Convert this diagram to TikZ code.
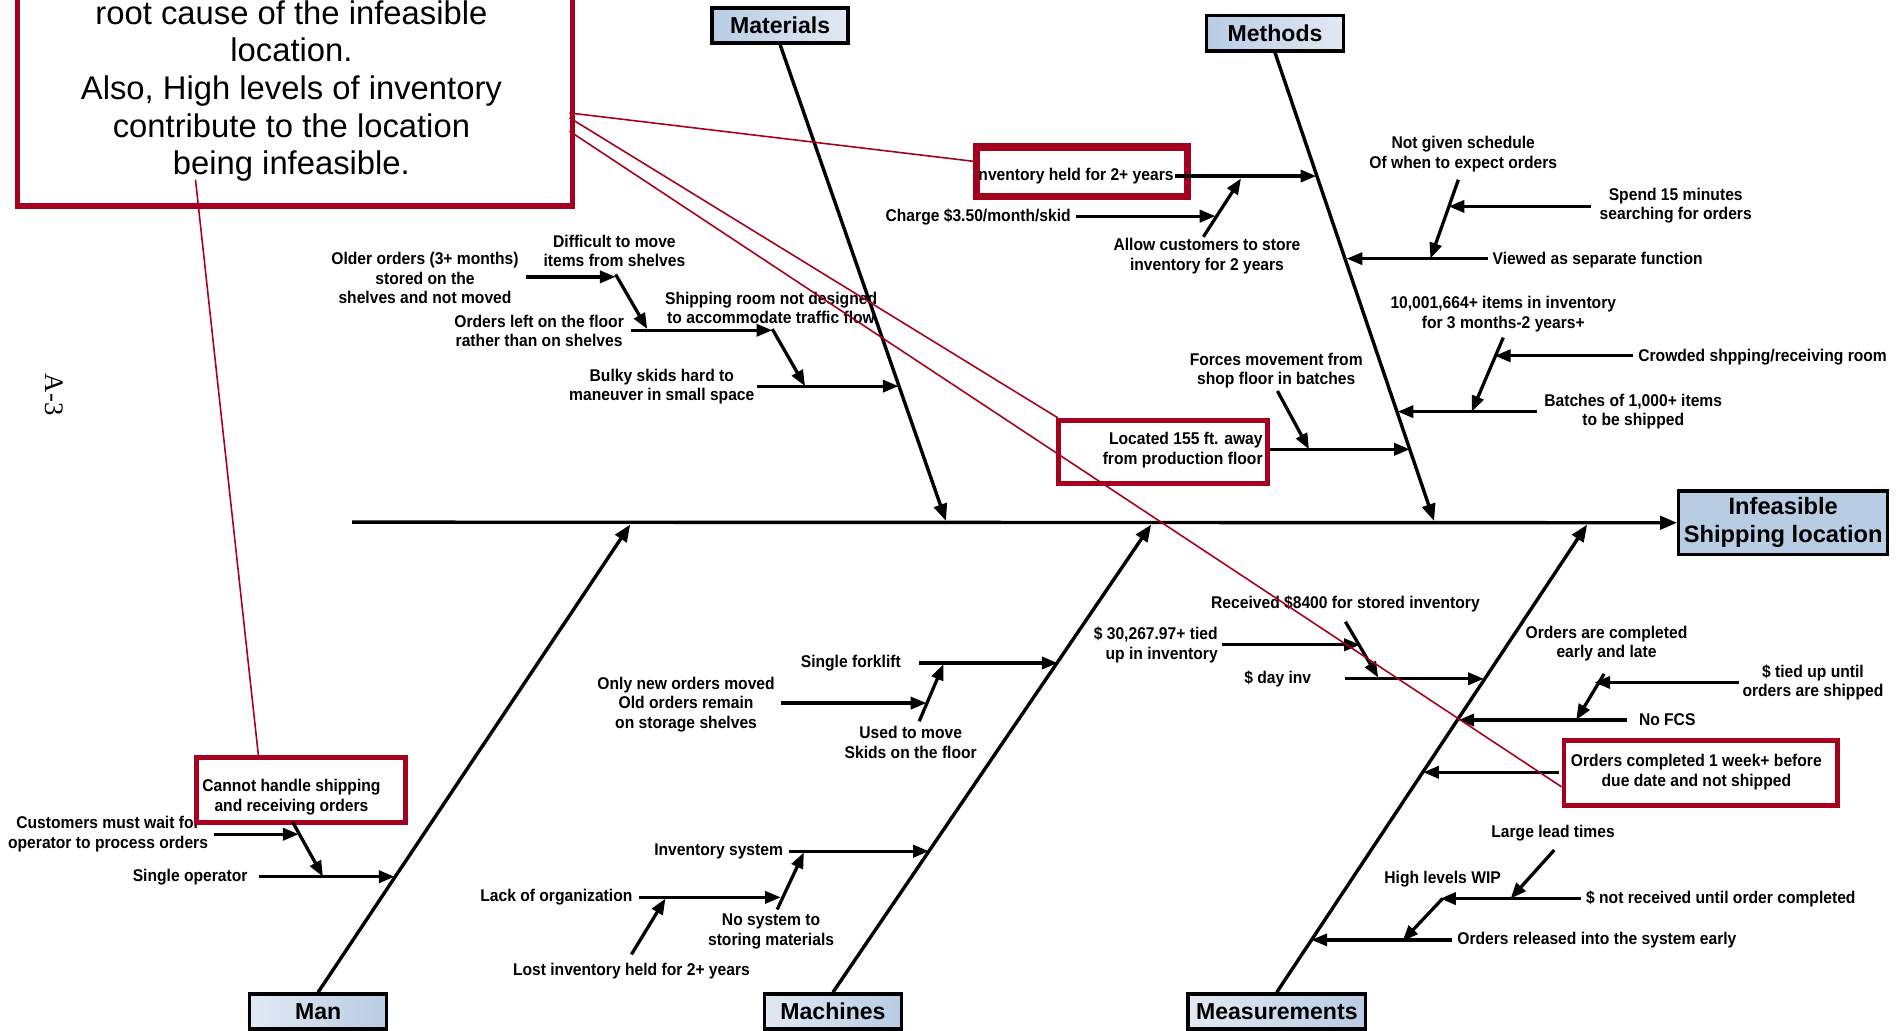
\documentclass[tikz,border=0pt]{standalone}
\usepackage{fontspec}
\setmainfont{Liberation Sans}
\newfontfamily\lblfont{Liberation Sans}[FakeStretch=0.92]
\newfontfamily\pagefont{Liberation Serif}
\usetikzlibrary{arrows.meta}

\definecolor{causered}{RGB}{166,0,33}
\definecolor{catblue}{RGB}{184,204,228}
\definecolor{catpale}{RGB}{226,233,244}

\tikzset{
  lbl/.style={font=\lblfont\bfseries\fontsize{14}{16}\selectfont, align=center, inner sep=0pt},
  bone/.style={line width=2.8pt, -{Triangle[length=14pt,width=11pt]}},
  twig/.style={line width=2.7pt, -{Triangle[length=13pt,width=10pt]}},
  catbox/.style={draw=black, line width=2.8pt, inner sep=0pt, minimum height=29pt,
                 font=\bfseries\fontsize{19}{22}\selectfont},
  redbox/.style={draw=causered, line width=4pt, fill=white, inner sep=0pt},
  redlink/.style={draw=causered, line width=1.3pt},
}

\begin{document}
\begin{tikzpicture}[x=1pt,y=-1pt]
\useasboundingbox (0,0) rectangle (1568,849);
\fill[white] (0,0) rectangle (1568,849);

% ---------- page mark ----------
\node[font=\pagefont\fontsize{22}{22}\selectfont, rotate=-90] (pagemark) at (45,325) {A-3};

% ---------- spine, head and category boxes ----------
\node[catbox, fill=catblue, minimum width=172pt, minimum height=52pt, align=center,
      font=\bfseries\fontsize{19.5}{23}\selectfont] (head) at (1468.5,430.5) {Infeasible\\Shipping location};
\coordinate (spineL) at (290,430);
\draw[bone] (spineL) -- (head.west);

\node[catbox, left color=catblue, right color=catpale, minimum width=112pt] (mat) at (642.5,21) {Materials};
\node[catbox, left color=catblue, right color=catpale, minimum width=113pt] (meth) at (1050,27.5) {Methods};
\node[catbox, left color=catpale, right color=catblue, minimum width=113pt] (man) at (262,833) {Man};
\node[catbox, left color=catpale, right color=catblue, minimum width=113pt] (mach) at (686,833) {Machines};
\node[catbox, left color=catpale, right color=catblue, minimum width=146pt] (meas) at (1051.5,833) {Measurements};

\coordinate (matS) at (779,429);
\coordinate (methS) at (1181,429);
\coordinate (manS) at (519,432);
\coordinate (machS) at (948,432);
\coordinate (measS) at (1307,432);
\draw[bone] (mat.south) -- (matS);
\draw[bone] (meth.south) -- (methS);
\draw[bone] (man.north) -- (manS);
\draw[bone] (mach.north) -- (machS);
\draw[bone] (meas.north) -- (measS);

% ---------- Materials ----------
\node[lbl] (older) at (350,229) {Older orders (3+ months)\\stored on the\\shelves and not moved};
\node[lbl] (difficult) at (506,206.5) {Difficult to move\\items from shelves};
\node[lbl] (ordleft) at (444,272.5) {Orders left on the floor\\rather than on shelves};
\node[lbl] (shiproom) at (635,253.5) {Shipping room not designed\\to accommodate traffic flow};
\node[lbl] (bulky) at (545,318.5) {Bulky skids hard to\\maneuver in small space};
\coordinate (olderT) at (433,228); \coordinate (olderH) at (507,228);
\coordinate (diffT) at (507,226);  \coordinate (diffH) at (533,271);
\coordinate (ordT) at (520,272);   \coordinate (ordH) at (636,272);
\coordinate (shipT) at (636,271);  \coordinate (shipH) at (663,318);
\coordinate (bulkyT) at (623,318); \coordinate (bulkyH) at (740,318);
\draw[twig] (olderT) -- (olderH);
\draw[twig] (diffT) -- (diffH);
\draw[twig] (ordT) -- (ordH);
\draw[twig] (shipT) -- (shipH);
\draw[twig] (bulkyT) -- (bulkyH);

% ---------- Methods ----------
\node[redbox, minimum width=172pt, minimum height=39pt] (invbox) at (891,141.5) {};
\node[lbl, anchor=west] (invheld) at (802,145) {Inventory held for 2+ years};
\draw[causered, line width=4pt] (invbox.south west) rectangle (invbox.north east);
\coordinate (invT) at (968,145); \coordinate (invH) at (1084,145);
\draw[twig] (invT) -- (invH);

\node[lbl, anchor=east] (charge) at (882,179) {Charge \$3.50/month/skid};
\coordinate (chargeT) at (886,178); \coordinate (chargeH) at (1001,178);
\draw[twig] (chargeT) -- (chargeH);
\node[lbl] (allow) at (994,211) {Allow customers to store\\inventory for 2 years};
\coordinate (allowT) at (991,195); \coordinate (allowH) at (1022,147);
\draw[twig] (allowT) -- (allowH);

\node[lbl] (notgiven) at (1205,127) {Not given schedule\\Of when to expect orders};
\coordinate (notgT) at (1201,148); \coordinate (notgH) at (1178,213);
\draw[twig] (notgT) -- (notgH);
\node[lbl] (spend) at (1380,169.5) {Spend 15 minutes\\searching for orders};
\coordinate (spendT) at (1310,170); \coordinate (spendH) at (1193,170);
\draw[twig] (spendT) -- (spendH);
\node[lbl, anchor=west] (viewed) at (1229,214) {Viewed as separate function};
\coordinate (viewT) at (1225,213); \coordinate (viewH) at (1109,213);
\draw[twig] (viewT) -- (viewH);

\node[lbl] (items) at (1238,258.5) {10,001,664+ items in inventory\\for 3 months-2 years+};
\coordinate (itemsT) at (1238,278); \coordinate (itemsH) at (1212,339);
\draw[twig] (itemsT) -- (itemsH);
\node[lbl, anchor=west] (crowded) at (1349,294) {Crowded shpping/receiving room};
\coordinate (crowdT) at (1345,293); \coordinate (crowdH) at (1231,293);
\draw[twig] (crowdT) -- (crowdH);
\node[lbl] (batches) at (1345,339) {Batches of 1,000+ items\\to be shipped};
\coordinate (batchT) at (1266,339); \coordinate (batchH) at (1151,339);
\draw[twig] (batchT) -- (batchH);

\node[lbl] (forces) at (1051,305) {Forces movement from\\shop floor in batches};
\coordinate (forceT) at (1052,322); \coordinate (forceH) at (1078,370);
\draw[twig] (forceT) -- (forceH);
\node[redbox, minimum width=172pt, minimum height=52pt] (locbox) at (958,372) {};
\node[lbl, align=right, anchor=east] (located) at (1040,370.5) {Located 155 ft. away\\from production floor};
\coordinate (locT) at (1046,370); \coordinate (locH) at (1161,370);
\draw[twig] (locT) -- (locH);

% ---------- Man ----------
\node[lbl] (customers) at (89,687) {Customers must wait for\\operator to process orders};
\node[redbox, minimum width=172pt, minimum height=53pt] (cannotbox) at (248,650.5) {};
\node[lbl] (cannot) at (240,656.5) {Cannot handle shipping\\and receiving orders};
\coordinate (custT) at (176,687); \coordinate (custH) at (246,687);
\draw[twig] (custT) -- (custH);
\coordinate (cannotT) at (241,677); \coordinate (cannotH) at (266,722);
\draw[twig] (cannotT) -- (cannotH);
\node[lbl, anchor=east] (singleop) at (204,722) {Single operator};
\coordinate (sopT) at (213,722); \coordinate (sopH) at (325,722);
\draw[twig] (sopT) -- (sopH);

% ---------- Machines ----------
\node[lbl, anchor=east] (forklift) at (742,546) {Single forklift};
\coordinate (forkT) at (757,546); \coordinate (forkH) at (871,546);
\draw[twig] (forkT) -- (forkH);
\node[lbl] (onlynew) at (565,580) {Only new orders moved\\Old orders remain\\on storage shelves};
\coordinate (onlyT) at (643,579); \coordinate (onlyH) at (763,579);
\draw[twig] (onlyT) -- (onlyH);
\node[lbl] (usedto) at (750,611.5) {Used to move\\Skids on the floor};
\coordinate (usedT) at (757,594); \coordinate (usedH) at (777,547);
\draw[twig] (usedT) -- (usedH);

\node[lbl, anchor=east] (invsys) at (645,701) {Inventory system};
\coordinate (isysT) at (650,701); \coordinate (isysH) at (765,701);
\draw[twig] (isysT) -- (isysH);
\node[lbl, anchor=east] (lackorg) at (521,739) {Lack of organization};
\coordinate (lackT) at (526,739); \coordinate (lackH) at (643,739);
\draw[twig] (lackT) -- (lackH);
\node[lbl] (nosystem) at (635,767) {No system to\\storing materials};
\coordinate (nosysT) at (640,749); \coordinate (nosysH) at (662,702);
\draw[twig] (nosysT) -- (nosysH);
\node[lbl] (lostinv) at (520,800) {Lost inventory held for 2+ years};
\coordinate (lostT) at (520,786); \coordinate (lostH) at (548,740);
\draw[twig] (lostT) -- (lostH);

% ---------- Measurements ----------
\node[lbl] (received) at (1108,497) {Received \$8400 for stored inventory};
\coordinate (recT) at (1108,512); \coordinate (recH) at (1135,558);
\draw[twig] (recT) -- (recH);
\node[lbl, align=right, anchor=east] (tied) at (1003,531) {\$ 30,267.97+ tied\\up in inventory};
\coordinate (tiedT) at (1006,531); \coordinate (tiedH) at (1120,531);
\draw[twig] (tiedT) -- (tiedH);
\node[lbl, anchor=east] (dayinv) at (1080,559) {\$ day inv};
\coordinate (dayT) at (1108,559); \coordinate (dayH) at (1222,559);
\draw[twig] (dayT) -- (dayH);

\node[lbl] (early) at (1323,530) {Orders are completed\\early and late};
\coordinate (earlyT) at (1321,555); \coordinate (earlyH) at (1298,593);
\draw[twig] (earlyT) -- (earlyH);
\node[lbl] (tieduntil) at (1493,562) {\$ tied up until\\orders are shipped};
\coordinate (tuT) at (1432,562); \coordinate (tuH) at (1313,562);
\draw[twig] (tuT) -- (tuH);
\node[lbl] (nofcs) at (1373,593) {No FCS};
\coordinate (fcsT) at (1340,593); \coordinate (fcsH) at (1201,593);
\draw[twig] (fcsT) -- (fcsH);

\node[redbox, minimum width=225pt, minimum height=53pt] (wkbox) at (1400.5,636.5) {};
\node[lbl] (week) at (1397,636) {Orders completed 1 week+ before\\due date and not shipped};
\coordinate (wkT) at (1284,636); \coordinate (wkH) at (1172,636);
\draw[twig] (wkT) -- (wkH);

\node[lbl] (lead) at (1279,686) {Large lead times};
\coordinate (leadT) at (1280,700); \coordinate (leadH) at (1244,740);
\draw[twig] (leadT) -- (leadH);
\node[lbl] (wip) at (1188,724) {High levels WIP};
\coordinate (wipT) at (1188,740); \coordinate (wipH) at (1155,775);
\draw[twig] (wipT) -- (wipH);
\node[lbl, anchor=west] (notrec) at (1306,740) {\$ not received until order completed};
\coordinate (nrT) at (1302,740); \coordinate (nrH) at (1186,740);
\draw[twig] (nrT) -- (nrH);
\node[lbl, anchor=west] (released) at (1200,774) {Orders released into the system early};
\coordinate (relT) at (1196,774); \coordinate (relH) at (1080,774);
\draw[twig] (relT) -- (relH);

% ---------- root-cause note and its links ----------
\node[redbox, line width=4.5pt, minimum width=457pt, minimum height=194pt, anchor=south west] (note) at (12,172) {};
\node[font=\fontsize{27}{31}\selectfont, align=center, inner sep=0pt] (notetext) at (240,75)
  {root cause of the infeasible\\location.\\Also, High levels of inventory\\contribute to the location\\being infeasible.};

\coordinate (noteA) at (469,93);
\coordinate (noteB) at (469,97);
\coordinate (noteC) at (469,108);
\coordinate (noteD) at (161,148);
\coordinate (invIn) at (803,133);
\coordinate (locIn) at (871,344);
\coordinate (wkIn) at (1286,648);
\coordinate (cannotIn) at (213,624);
\draw[redlink] (noteA) -- (invIn);
\draw[redlink] (noteB) -- (locIn);
\draw[redlink] (noteC) -- (wkIn);
\draw[redlink] (noteD) -- (cannotIn);
\end{tikzpicture}
\end{document}
